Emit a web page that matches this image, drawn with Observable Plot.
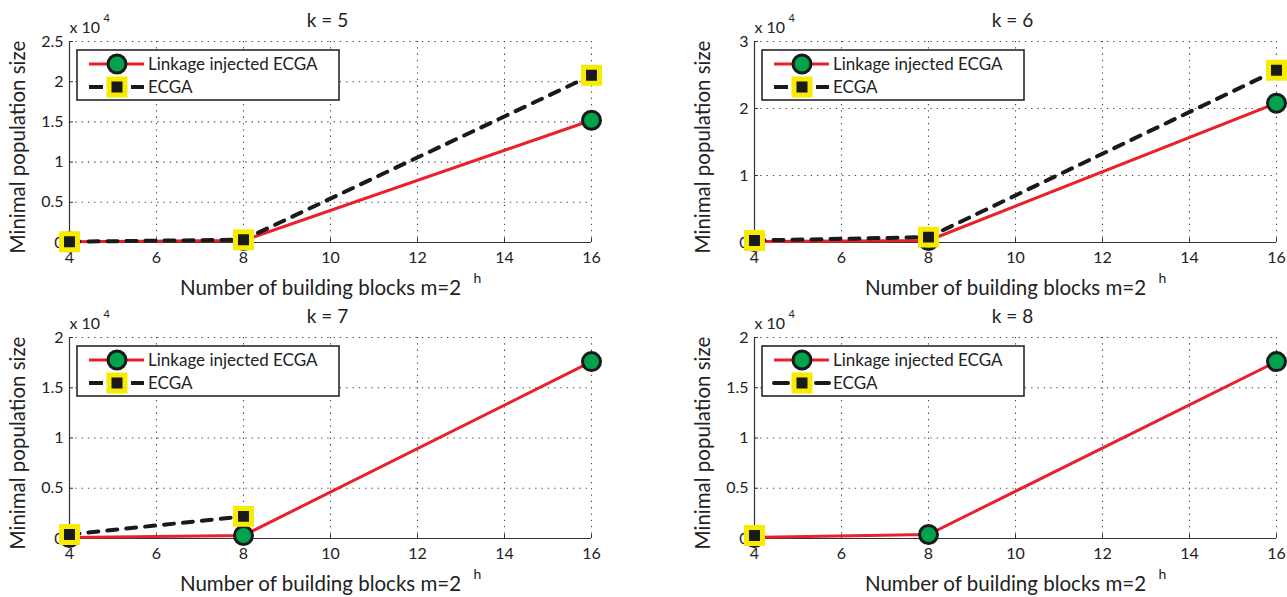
<!DOCTYPE html>
<html>
<head>
<meta charset="utf-8">
<script src="https://cdn.jsdelivr.net/npm/d3@7"></script>
<script src="https://cdn.jsdelivr.net/npm/@observablehq/plot@0.6"></script>
<style>
  html, body { margin: 0; padding: 0; background: #fff; }
  #chart { position: relative; width: 1287px; height: 597px; overflow: hidden; }
  .panel { position: absolute; }
  svg { overflow: visible; }
</style>
</head>
<body>
<div id="chart"></div>
<script>
// ---- data ----
const xValues = [4, 8, 16];
const xTicks = [4, 6, 8, 10, 12, 14, 16];
const seriesNames = ["Linkage injected ECGA", "ECGA"];
const panelK = [5, 6, 7, 8];

const linkageK5 = [80, 250, 15200];
const ecgaK5 = [100, 350, 20800];
const linkageK6 = [150, 300, 20800];
const ecgaK6 = [300, 800, 25700];
const linkageK7 = [100, 300, 17600];
const ecgaK7 = [400, 2200];
const linkageK8 = [100, 400, 17600];
const ecgaK8 = [300];

const yMaxK = [25000, 30000, 20000, 20000];
const yTicksK5 = [0, 5000, 10000, 15000, 20000, 25000];
const yTicksK6 = [0, 10000, 20000, 30000];
const yTicksK7 = [0, 5000, 10000, 15000, 20000];
const yTicksK8 = [0, 5000, 10000, 15000, 20000];

const yLabel = "Minimal population size";
const xLabel = "Number of building blocks m=2";
const xLabelSup = "h";
const scaleLabel = "x 10";
const scaleSup = "4";

// ---- styling ----
const FONT = "Lato, 'Noto Sans', sans-serif";
const RED = "#e8212b";
const GREEN = "#00a24c";
const YELLOW = "#f7ec00";
const INK = "#1a1a1a";
const TXT = "#222";

const panels = [
  {k: panelK[0], lin: linkageK5, ecga: ecgaK5, yMax: yMaxK[0], yTicks: yTicksK5, left: 0, top: 0, legendRound: false},
  {k: panelK[1], lin: linkageK6, ecga: ecgaK6, yMax: yMaxK[1], yTicks: yTicksK6, left: 685, top: 0, legendRound: false},
  {k: panelK[2], lin: linkageK7, ecga: ecgaK7, yMax: yMaxK[2], yTicks: yTicksK7, left: 0, top: 296, legendRound: false},
  {k: panelK[3], lin: linkageK8, ecga: ecgaK8, yMax: yMaxK[3], yTicks: yTicksK8, left: 685, top: 296, legendRound: true}
];

const chart = document.getElementById("chart");

for (const p of panels) {
  const width = p.left === 0 ? 640 : 602;
  const height = 300;
  const mL = 69, mT = 41, mB = height - 242;
  const mR = width - 591;

  const lin = xValues.map((x, i) => ({x, y: p.lin[i]})).filter(d => d.y != null);
  const ecga = xValues.map((x, i) => ({x, y: p.ecga[i]})).filter(d => d.y != null);

  const svg = Plot.plot({
    width, height,
    marginLeft: mL, marginRight: mR, marginTop: mT, marginBottom: mB,
    style: {fontFamily: FONT, fontSize: "16px", color: TXT, background: "transparent", overflow: "visible"},
    x: {domain: [4, 16], label: null},
    y: {domain: [0, p.yMax], label: null},
    marks: [
      Plot.gridX(xTicks, {stroke: "#444", strokeOpacity: 1, strokeWidth: 1.1, strokeDasharray: "1.3,5"}),
      Plot.gridY(p.yTicks, {stroke: "#444", strokeOpacity: 1, strokeWidth: 1.1, strokeDasharray: "1.3,5"}),
      Plot.ruleX([4], {stroke: "#333", strokeWidth: 1.2}),
      Plot.ruleY([0], {stroke: "#333", strokeWidth: 1.2}),
      Plot.axisX({ticks: xTicks, tickFormat: d => String(d), tickSize: -4, tickPadding: 13, stroke: "#333", fontSize: 16, fill: TXT, label: null}),
      Plot.axisY({ticks: p.yTicks, tickFormat: d => String(d / 1e4), tickSize: -4, tickPadding: 10, stroke: "#333", fontSize: 16, fill: TXT, label: null}),
      Plot.line(lin, {x: "x", y: "y", stroke: RED, strokeWidth: 3}),
      Plot.line(ecga, {x: "x", y: "y", stroke: INK, strokeWidth: 4, strokeDasharray: "10,9"}),
      Plot.dot(lin, {x: "x", y: "y", r: 9, fill: GREEN, stroke: INK, strokeWidth: 3}),
      Plot.dot(ecga, {x: "x", y: "y", symbol: "square", r: 9, fill: INK, stroke: YELLOW, strokeWidth: 5}),
      Plot.text([`k = ${p.k}`], {text: d => d, frameAnchor: "top", textAnchor: "middle", dx: -3, dy: -21, lineAnchor: "middle", fontSize: 19, fill: TXT}),
      Plot.text([scaleLabel], {text: d => d, frameAnchor: "top-left", textAnchor: "start", lineAnchor: "middle", dx: 0, dy: -14, fontSize: 16, fill: TXT}),
      Plot.text([scaleSup], {text: d => d, frameAnchor: "top-left", textAnchor: "start", lineAnchor: "middle", dx: 34, dy: -23, fontSize: 11, fill: TXT}),
      Plot.text([yLabel], {text: d => d, frameAnchor: "left", textAnchor: "middle", rotate: -90, dx: -51, dy: 5, lineAnchor: "middle", fontSize: 20.5, fill: TXT}),
      Plot.text([xLabel], {text: d => d, frameAnchor: "bottom", textAnchor: "middle", dx: -10, dy: 46, lineAnchor: "middle", fontSize: 20.5, fill: TXT}),
      Plot.text([xLabelSup], {text: d => d, frameAnchor: "bottom", textAnchor: "middle", dx: 147, dy: 36, lineAnchor: "middle", fontSize: 14, fill: TXT})
    ]
  });

  // legend (MATLAB-style box in the upper-left of the axes)
  const s = d3.select(svg);
  const lx = mL + 8, ly = mT + 9;
  const g = s.append("g").attr("transform", `translate(${lx},${ly})`)
    .style("font-family", FONT).attr("text-anchor", "start");
  g.append("rect").attr("width", 262).attr("height", 50).attr("fill", "#fff").attr("stroke", INK).attr("stroke-width", 1.5);
  // row 1
  g.append("line").attr("x1", 12).attr("x2", 67).attr("y1", 14).attr("y2", 14).attr("stroke", RED).attr("stroke-width", 3);
  g.append("circle").attr("cx", 40).attr("cy", 14).attr("r", 9).attr("fill", GREEN).attr("stroke", INK).attr("stroke-width", 3);
  g.append("text").attr("x", 71).attr("y", 14).attr("dy", "0.35em").attr("text-anchor", "start").attr("font-size", 17).attr("fill", TXT).text(seriesNames[0]);
  // row 2
  const cap = p.legendRound ? "round" : "butt";
  g.append("line").attr("x1", 12).attr("x2", 26).attr("y1", 37).attr("y2", 37).attr("stroke", INK).attr("stroke-width", 4).attr("stroke-linecap", cap);
  g.append("line").attr("x1", 54).attr("x2", 67).attr("y1", 37).attr("y2", 37).attr("stroke", INK).attr("stroke-width", 4).attr("stroke-linecap", cap);
  g.append("rect").attr("x", 40 - 8).attr("y", 37 - 8).attr("width", 16).attr("height", 16).attr("fill", INK).attr("stroke", YELLOW).attr("stroke-width", 5);
  g.append("text").attr("x", 71).attr("y", 37).attr("dy", "0.35em").attr("text-anchor", "start").attr("font-size", 17).attr("fill", TXT).text(seriesNames[1]);

  const div = document.createElement("div");
  div.className = "panel";
  div.style.left = p.left + "px";
  div.style.top = p.top + "px";
  div.appendChild(svg);
  chart.appendChild(div);
}
</script>
</body>
</html>
